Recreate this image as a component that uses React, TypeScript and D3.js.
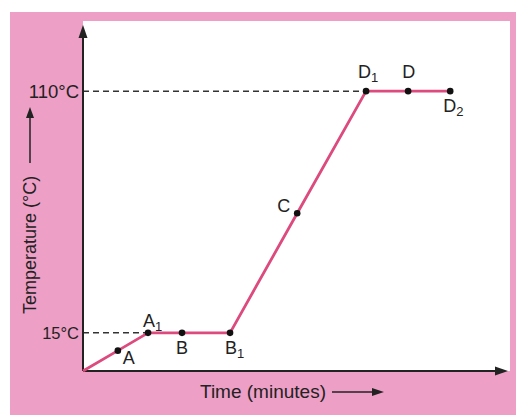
import React from "react";
import * as d3 from "d3";

const pointNames = ["O", "A", "A1", "B", "B1", "C", "D1", "D", "D2"];
const timeValues = [0, 8.2, 15.3, 23.3, 34.6, 50.4, 66.6, 76.5, 86.4];
const tempValues = [0, 8, 15, 15, 15, 62, 110, 110, 110];
const tickTemps = [15, 110];
const tickLabels = ["15°C", "110°C"];
const dashedTo = ["A1", "D1"];

const W = 516;
const H = 417;

export default function App() {
  const x = d3.scaleLinear().domain([0, 100]).range([83, 508]);
  const y = d3.scaleLinear().domain([0, 136]).range([371, 25]);
  const pts = pointNames.map((n, i) => ({ n, t: timeValues[i], v: tempValues[i] }));
  const line = d3
    .line<{ t: number; v: number }>()
    .x((d) => x(d.t))
    .y((d) => y(d.v));

  const offs: Record<string, [number, number, string]> = {
    A: [5, 13, "start"],
    A1: [-5, -6, "start"],
    B: [0, 21, "middle"],
    B1: [-5, 21, "start"],
    C: [-20, -1, "start"],
    D1: [-8, -13, "start"],
    D: [-6, -13, "start"],
    D2: [-7, 21, "start"],
  };

  const font = "'Liberation Sans', Arial, Helvetica, sans-serif";
  const ink = "#222";
  const x0 = x(0);
  const y0 = y(0);

  return (
    <svg
      width={W}
      height={H}
      viewBox={`0 0 ${W} ${H}`}
      style={{ position: "absolute", left: 0, top: 0, fontFamily: font }}
    >
      <rect x={0} y={0} width={W} height={H} fill="#ffffff" />
      <rect x={10} y={12} width={W - 10} height={403} fill="#ee9fc6" />
      <rect x={x0} y={21} width={510 - x0} height={y0 - 21} fill="#ffffff" />

      {/* dashed guides */}
      {dashedTo.map((n) => {
        const p = pts.find((q) => q.n === n)!;
        return (
          <line
            key={n}
            x1={x0}
            x2={x(p.t)}
            y1={y(p.v)}
            y2={y(p.v)}
            stroke="#333"
            strokeWidth={1.5}
            strokeDasharray="6,4"
          />
        );
      })}

      {/* axes */}
      <line x1={x0} y1={y0} x2={x0} y2={y(136) + 12} stroke={ink} strokeWidth={2} />
      <path
        d={`M${x0},${y(136)} L${x0 - 4.5},${y(136) + 13} L${x0 + 4.5},${y(136) + 13} Z`}
        fill={ink}
      />
      <line x1={x0} y1={y0} x2={x(100) - 12} y2={y0} stroke={ink} strokeWidth={2} />
      <path
        d={`M${x(100)},${y0} L${x(100) - 13},${y0 - 4.5} L${x(100) - 13},${y0 + 4.5} Z`}
        fill={ink}
      />

      {/* tick labels */}
      {tickTemps.map((t, i) => (
        <text
          key={t}
          x={x0 - 4}
          y={y(t)}
          textAnchor="end"
          dominantBaseline="central"
          fontSize={i === 0 ? 16.5 : 18.5}
          fill={ink}
        >
          {tickLabels[i]}
        </text>
      ))}

      {/* curve */}
      <path
        d={line(pts) || ""}
        fill="none"
        stroke="#dc4a7e"
        strokeWidth={2.8}
        strokeLinejoin="round"
      />

      {/* points and labels */}
      {pts.slice(1).map((p) => {
        const [dx, dy, anchor] = offs[p.n];
        const base = p.n[0];
        const sub = p.n.slice(1);
        return (
          <g key={p.n}>
            <circle cx={x(p.t)} cy={y(p.v)} r={3.3} fill="#111" />
            <text
              x={x(p.t) + dx}
              y={y(p.v) + dy}
              textAnchor={anchor}
              fontSize={18}
              fill={ink}
            >
              {base}
              {sub && (
                <tspan fontSize={13} dy={4}>
                  {sub}
                </tspan>
              )}
            </text>
          </g>
        );
      })}

      {/* axis titles */}
      <g transform="translate(36,314) rotate(-90)">
        <text x={0} y={0} fontSize={18} fill={ink}>
          Temperature (°C)
        </text>
        <line x1={151} x2={198} y1={-6} y2={-6} stroke={ink} strokeWidth={1.5} />
        <path d="M207,-6 L196,-10 L196,-2 Z" fill={ink} />
      </g>
      <text x={200} y={398} fontSize={19} fill={ink}>
        Time (minutes)
      </text>
      <line x1={332} x2={374} y1={392} y2={392} stroke={ink} strokeWidth={1.5} />
      <path d="M384,392 L372,388 L372,396 Z" fill={ink} />
    </svg>
  );
}
